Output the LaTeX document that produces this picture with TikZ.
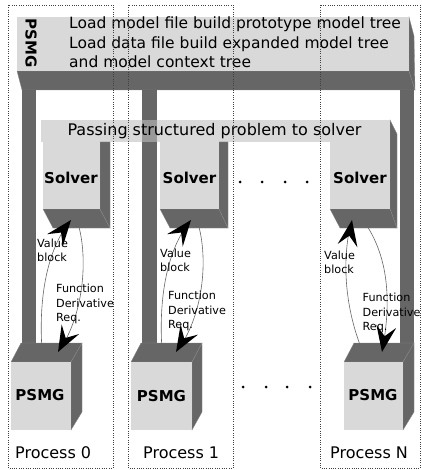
\documentclass[tikz,border=0pt]{standalone}
\usepackage{fontspec}
\setmainfont{DejaVu Sans}
\usetikzlibrary{calc}
\definecolor{lg}{HTML}{D9D9D9}
\definecolor{dg}{HTML}{666666}
\definecolor{eg}{HTML}{8A8A8A}
\definecolor{mg}{HTML}{9A9A9A}
% arrowhead: #1 tip coordinate, #2 point on the arrow axis behind the tip
\newcommand\myhead[2]{%
  \fill[black] (#1) -- ($(#1)!26pt!(#2)!10pt!90:(#1)$) -- ($(#1)!16pt!(#2)$)
     -- ($(#1)!26pt!(#2)!10pt!-90:(#1)$) -- cycle;}
\begin{document}
\begin{tikzpicture}[x=1pt,y=-1pt,
  face/.style={fill=lg, draw=none, inner sep=0pt},
  dark/.style={fill=dg, draw=eg, line width=0.3pt},
  frame/.style={draw=black!75, line width=0.7pt, dash pattern=on 0.7pt off 1.6pt},
  big/.style={font=\fontsize{15.5}{19.5}\selectfont, inner sep=0pt},
  boldlab/.style={font=\fontsize{15}{18}\selectfont\bfseries, inner sep=0pt},
  small/.style={font=\fontsize{11.2}{14.2}\selectfont, inner sep=0pt, align=left, anchor=west},
  flow/.style={draw=black!60, line width=0.6pt},
  pdot/.style={fill=black}
]
\useasboundingbox (0,0) rectangle (421,470);

% ---------- top PSMG bar ----------
\fill[dark] (17,71) -- (409,71) -- (415,90) -- (22,90) -- cycle;
\fill[dark] (409,17) -- (414,36) -- (415,90) -- (409,71) -- cycle;
\node[face, minimum width=392pt, minimum height=54pt, anchor=north west] (topbar) at (17,17) {};
\node[boldlab, rotate=-90] (toplab) at (31,43) {PSMG};
\node[big, align=left, anchor=west] (toptext) at (69,42.5) {Load model file build prototype model tree\\Load data file build expanded model tree\\and model context tree};

% ---------- pillars ----------
\fill[dg] (22,90) rectangle (36,350);
\fill[dg] (142,90) rectangle (157,350);
\fill[dg] (400,90) rectangle (414,350);

% ---------- passing bar and solvers ----------
\fill[dark] (390,120) -- (397,134) -- (397,228) -- (390,209) -- cycle;
\node[face, minimum width=349pt, minimum height=22pt, anchor=north west] (pass) at (41,120) {};
\fill[mg] (142,120) rectangle (157,142);

% solver 0
\fill[dark] (43,209) -- (100,209) -- (110,228) -- (53,228) -- cycle;
\fill[dark] (100,142) -- (110,142) -- (110,228) -- (100,209) -- cycle;
\node[face, minimum width=57pt, minimum height=67pt, anchor=north west] (s0) at (43,142) {};
% solver 1
\fill[dark] (160,209) -- (219,209) -- (228,228) -- (170,228) -- cycle;
\fill[dark] (219,142) -- (228,142) -- (228,228) -- (219,209) -- cycle;
\node[face, minimum width=59pt, minimum height=67pt, anchor=north west] (s1) at (160,142) {};
% solver N
\fill[dark] (330,209) -- (390,209) -- (397,228) -- (340,228) -- cycle;
\node[face, minimum width=60pt, minimum height=67pt, anchor=north west] (sN) at (330,142) {};

\node[big, font=\fontsize{16}{19}\selectfont] (passtext) at (214.5,131) {Passing structured problem to solver};
\node[boldlab] (s0lab) at (71,178) {Solver};
\node[boldlab] (s1lab) at (189.5,178) {Solver};
\node[boldlab] (sNlab) at (360,178) {Solver};

\foreach \x in {240,262,285,307} \fill[pdot] (\x,182) circle (1.5pt);

% ---------- PSMG boxes ----------
% process 0
\fill[dark] (11,362) -- (71,362) -- (82,343) -- (21,343) -- cycle;
\fill[dark] (71,362) -- (82,343) -- (82,412) -- (71,430) -- cycle;
\node[face, minimum width=60pt, minimum height=68pt, anchor=north west] (p0) at (11,362) {};
% process 1
\fill[dark] (131,362) -- (192,362) -- (202,343) -- (141,343) -- cycle;
\fill[dark] (192,362) -- (202,343) -- (202,412) -- (192,430) -- cycle;
\node[face, minimum width=61pt, minimum height=68pt, anchor=north west] (p1) at (131,362) {};
% process N
\fill[dark] (344,362) -- (403,362) -- (414,343) -- (354,343) -- cycle;
\fill[dark] (403,362) -- (414,343) -- (414,412) -- (403,430) -- cycle;
\node[face, minimum width=59pt, minimum height=68pt, anchor=north west] (pN) at (344,362) {};

\node[boldlab] (p0lab) at (40,395) {PSMG};
\node[boldlab] (p1lab) at (161.5,396) {PSMG};
\node[boldlab] (pNlab) at (373,395) {PSMG};

\foreach \x in {243,266,287,310} \fill[pdot] (\x,387) circle (1.5pt);

% ---------- connectors ----------
\coordinate (v0a) at (42,350);  \coordinate (v0b) at (71,220);
\coordinate (f0a) at (77,220);  \coordinate (f0b) at (58,352);
\coordinate (v1a) at (162,350); \coordinate (v1b) at (191,220);
\coordinate (f1a) at (197,220); \coordinate (f1b) at (176,352);
\coordinate (vNa) at (362,350); \coordinate (vNb) at (352,220);
\coordinate (fNa) at (363,220); \coordinate (fNb) at (382,352);

\draw[flow] (v0a) .. controls (38,290) and (50,245) .. (v0b);
\draw[flow] (f0a) .. controls (90,260) and (82,320) .. (f0b);
\draw[flow] (v1a) .. controls (158,290) and (170,245) .. (v1b);
\draw[flow] (f1a) .. controls (210,260) and (202,320) .. (f1b);
\draw[flow] (vNa) .. controls (342,300) and (343,250) .. (vNb);
\draw[flow] (fNa) .. controls (392,260) and (390,310) .. (fNb);

\myhead{v0b}{56,239}
\myhead{f0b}{70,330}
\myhead{v1b}{176,239}
\myhead{f1b}{189,330}
\myhead{vNb}{348,243}
\myhead{fNb}{386,328}

\node[small] (vl0) at (37,250.5) {Value\\block};
\node[small] (fl0) at (56,304) {Function\\Derivative\\Req.};
\node[small] (vl1) at (160,260) {Value\\block};
\node[small] (fl1) at (168,311) {Function\\Derivative\\Req.};
\node[small] (vlN) at (324,262) {Value\\block};
\node[small] (flN) at (362.5,313) {Function\\Derivative\\Req.};

% ---------- process frames ----------
\draw[frame] (8,5) rectangle (113,468);
\draw[frame] (128,5) rectangle (233,468);
\draw[frame] (320,5) rectangle (420,468);
\node[big, font=\fontsize{16}{19}\selectfont, anchor=west] (pr0) at (15,453) {Process 0};
\node[big, font=\fontsize{16}{19}\selectfont, anchor=west] (pr1) at (143,453) {Process 1};
\node[big, font=\fontsize{16}{19}\selectfont, anchor=west] (prN) at (330,453) {Process N};
\end{tikzpicture}
\end{document}
